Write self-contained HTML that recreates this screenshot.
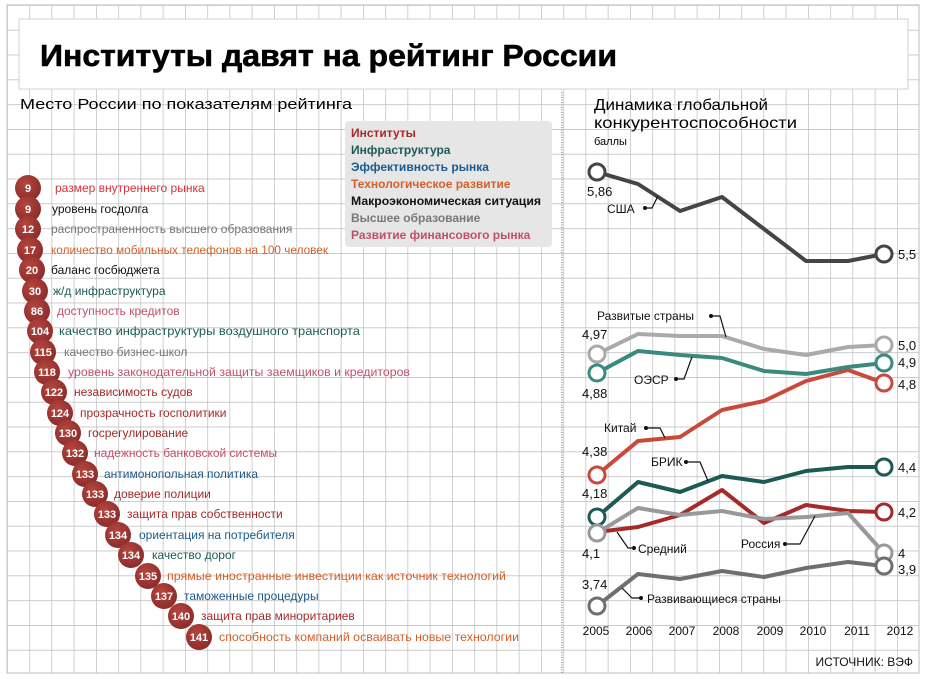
<!DOCTYPE html>
<html><head><meta charset="utf-8"><style>
html,body{margin:0;padding:0;background:#fff;}
svg{display:block;font-family:"Liberation Sans","Noto Sans CJK SC",sans-serif;}
</style></head><body>
<svg width="925" height="679" viewBox="0 0 925 679" xmlns="http://www.w3.org/2000/svg">
<defs>
<pattern id="g" x="7" y="5" width="22.25" height="24.8" patternUnits="userSpaceOnUse">
<path d="M0 0 V24.8 M0 0 H22.25" stroke="#bcbcbc" stroke-width="1.4" fill="none"/>
</pattern>
<radialGradient id="rc" cx="0.4" cy="0.35" r="0.7"><stop offset="0" stop-color="#b5463e"/><stop offset="1" stop-color="#8a2a2a"/></radialGradient>
</defs>
<rect x="7" y="5" width="912" height="668" fill="url(#g)" stroke="#bcbcbc"/>
<rect x="19" y="19" width="889" height="70" fill="#fff" stroke="#d0d0d0"/>
<text x="40" y="66" font-size="31" font-weight="900" stroke="#000" stroke-width="0.6" textLength="577" lengthAdjust="spacingAndGlyphs">Институты давят на рейтинг России</text>
<text x="20" y="109" font-size="15" textLength="332" lengthAdjust="spacingAndGlyphs">Место России по показателям рейтинга</text>
<line x1="562" y1="92" x2="562" y2="673" stroke="#999" stroke-width="1.5" stroke-dasharray="1,1.5"/>
<text x="594" y="110" font-size="16" textLength="174" lengthAdjust="spacingAndGlyphs">Динамика глобальной</text>
<text x="594" y="128" font-size="16" textLength="203" lengthAdjust="spacingAndGlyphs">конкурентоспособности</text>
<text x="594" y="145" font-size="11">баллы</text>

<rect x="345" y="121" width="207" height="126" rx="4" fill="#e6e6e6"/>
<g font-size="12" font-weight="bold">
<text x="351" y="137" fill="#a52a2a">Институты</text>
<text x="351" y="154" fill="#1e5a55">Инфраструктура</text>
<text x="351" y="171" fill="#1a5a8f">Эффективность рынка</text>
<text x="351" y="188" fill="#d2602a">Технологическое развитие</text>
<text x="351" y="205" fill="#111" textLength="190" lengthAdjust="spacingAndGlyphs">Макроэкономическая ситуация</text>
<text x="351" y="222" fill="#777">Высшее образование</text>
<text x="351" y="239" fill="#c0506a">Развитие финансового рынка</text>
</g>

<g font-size="12">
<g fill="url(#rc)">
<circle cx="28" cy="188" r="13"/><circle cx="28" cy="209" r="13"/><circle cx="28" cy="229" r="13"/><circle cx="30" cy="250" r="13"/><circle cx="32" cy="270" r="13"/><circle cx="35" cy="291" r="13"/><circle cx="37" cy="311" r="13"/><circle cx="40" cy="331" r="13"/><circle cx="43" cy="352" r="13"/><circle cx="47" cy="372" r="13"/><circle cx="54" cy="392" r="13"/><circle cx="60" cy="413" r="13"/><circle cx="68" cy="433" r="13"/><circle cx="75" cy="453" r="13"/><circle cx="85" cy="474" r="13"/><circle cx="95" cy="494" r="13"/><circle cx="107" cy="514" r="13"/><circle cx="118" cy="535" r="13"/><circle cx="131" cy="555" r="13"/><circle cx="148" cy="576" r="13"/><circle cx="164" cy="596" r="13"/><circle cx="181" cy="616" r="13"/><circle cx="199" cy="637" r="13"/>
</g>
<g fill="#fff" font-weight="bold" text-anchor="middle" font-size="11">
<text x="28" y="192">9</text><text x="28" y="213">9</text><text x="28" y="233">12</text><text x="30" y="254">17</text><text x="32" y="274">20</text><text x="35" y="295">30</text><text x="37" y="315">86</text><text x="40" y="335">104</text><text x="43" y="356">115</text><text x="47" y="376">118</text><text x="54" y="396">122</text><text x="60" y="417">124</text><text x="68" y="437">130</text><text x="75" y="457">132</text><text x="85" y="478">133</text><text x="95" y="498">133</text><text x="107" y="518">133</text><text x="118" y="539">134</text><text x="131" y="559">134</text><text x="148" y="580">135</text><text x="164" y="600">137</text><text x="181" y="620">140</text><text x="199" y="641">141</text>
</g>
<text x="55" y="192" fill="#d8323a">размер внутреннего рынка</text>
<text x="52" y="213" fill="#111">уровень госдолга</text>
<text x="51" y="233" fill="#777">распространенность высшего образования</text>
<text x="51" y="254" fill="#d2602a" textLength="277" lengthAdjust="spacingAndGlyphs">количество мобильных телефонов на 100 человек</text>
<text x="51" y="274" fill="#111">баланс госбюджета</text>
<text x="53" y="295" fill="#1e5a55">ж/д инфраструктура</text>
<text x="57" y="315" fill="#c0506a">доступность кредитов</text>
<text x="59" y="335" fill="#1e5a55" textLength="301" lengthAdjust="spacingAndGlyphs">качество инфраструктуры воздушного транспорта</text>
<text x="64" y="356" fill="#777">качество бизнес-школ</text>
<text x="68" y="376" fill="#c0506a" textLength="342" lengthAdjust="spacingAndGlyphs">уровень законодательной защиты заемщиков и кредиторов</text>
<text x="74" y="396" fill="#a52a2a">независимость судов</text>
<text x="80" y="417" fill="#a52a2a">прозрачность госполитики</text>
<text x="88" y="437" fill="#a52a2a">госрегулирование</text>
<text x="94" y="457" fill="#c0506a">надежность банковской системы</text>
<text x="104" y="478" fill="#1a5a8f">антимонопольная политика</text>
<text x="114" y="498" fill="#a52a2a">доверие полиции</text>
<text x="127" y="518" fill="#a52a2a">защита прав собственности</text>
<text x="139" y="539" fill="#1a5a8f">ориентация на потребителя</text>
<text x="152" y="559" fill="#1e5a55">качество дорог</text>
<text x="167" y="580" fill="#d2602a" textLength="339" lengthAdjust="spacingAndGlyphs">прямые иностранные инвестиции как источник технологий</text>
<text x="184" y="600" fill="#1a5a8f">таможенные процедуры</text>
<text x="201" y="620" fill="#a52a2a">защита прав миноритариев</text>
<text x="219" y="641" fill="#d2602a" textLength="300" lengthAdjust="spacingAndGlyphs">способность компаний осваивать новые технологии</text>
</g>

<g fill="none" stroke-width="4" stroke-linejoin="round">
<polyline stroke="#454545" points="597,172 638,184 680,211 722,197 764,229 806,261 848,261 884,254"/>
<polyline stroke="#aaaaaa" points="597,354 638,334 680,336 722,336 764,349 806,355 848,347 884,345"/>
<polyline stroke="#c94a3a" points="597,475 638,441 680,437 722,410 764,401 806,381 848,370 884,383"/>
<polyline stroke="#3a8a80" points="597,373 638,351 680,355 722,358 764,371 806,374 848,367 884,363"/>
<polyline stroke="#1e5a55" points="597,517 638,482 680,492 722,476 764,482 806,471 848,467 884,467"/>
<polyline stroke="#a52a2a" points="597,532 638,527 680,515 722,490 764,523 806,505 848,511 884,512"/>
<polyline stroke="#999999" points="597,533 638,508 680,515 722,511 764,519 806,517 848,513 884,553"/>
<polyline stroke="#6f6f6f" points="597,606 638,574 680,579 722,571 764,577 806,568 848,562 884,566"/>
</g>
<g fill="#fff" stroke-width="3">
<circle cx="597" cy="172" r="8" stroke="#454545"/><circle cx="884" cy="254" r="8" stroke="#454545"/>
<circle cx="597" cy="354" r="8" stroke="#aaa"/><circle cx="884" cy="345" r="8" stroke="#aaa"/>
<circle cx="597" cy="373" r="8" stroke="#3a8a80"/><circle cx="884" cy="363" r="8" stroke="#3a8a80"/>
<circle cx="597" cy="475" r="8" stroke="#c94a3a"/><circle cx="884" cy="383" r="8" stroke="#c94a3a"/>
<circle cx="597" cy="517" r="8" stroke="#1e5a55"/><circle cx="884" cy="467" r="8" stroke="#1e5a55"/>
<circle cx="884" cy="512" r="8" stroke="#a52a2a"/>
<circle cx="597" cy="533" r="8" stroke="#999"/><circle cx="884" cy="553" r="8" stroke="#999"/>
<circle cx="597" cy="606" r="8" stroke="#6f6f6f"/><circle cx="884" cy="566" r="8" stroke="#6f6f6f"/>
</g>
<g stroke="#111" stroke-width="1.2" fill="none">
<polyline points="645,208 652,208 658,196"/>
<polyline points="711,316 720,316 726,337"/>
<polyline points="676,379 684,379 692,357"/>
<polyline points="646,428 660,428 665,438"/>
<polyline points="686,462 700,462 708,481"/>
<polyline points="634,548 628,548 617,532"/>
<polyline points="785,544 800,544 815,516"/>
<polyline points="641,598 632,598 622,588"/>
</g>
<g fill="#111">
<circle cx="645" cy="208" r="2"/><circle cx="711" cy="316" r="2"/><circle cx="676" cy="379" r="2"/><circle cx="646" cy="428" r="2"/><circle cx="686" cy="462" r="2"/><circle cx="634" cy="548" r="2"/><circle cx="785" cy="544" r="2"/><circle cx="641" cy="598" r="2"/>
</g>
<g font-size="12" fill="#111">
<text x="607" y="213">США</text>
<text x="597" y="320">Развитые страны</text>
<text x="634" y="384">ОЭСР</text>
<text x="604" y="432">Китай</text>
<text x="651" y="466">БРИК</text>
<text x="638" y="553">Средний</text>
<text x="741" y="548">Россия</text>
<text x="647" y="603">Развивающиеся страны</text>
</g>
<g font-size="13" fill="#111">
<text x="587" y="196">5,86</text><text x="898" y="259">5,5</text>
<text x="582" y="339">4,97</text><text x="898" y="350">5,0</text><text x="898" y="367">4,9</text><text x="898" y="389">4,8</text>
<text x="582" y="398">4,88</text><text x="582" y="456">4,38</text><text x="898" y="472">4,4</text>
<text x="582" y="498">4,18</text><text x="898" y="517">4,2</text><text x="582" y="558">4,1</text>
<text x="898" y="558">4</text><text x="898" y="574">3,9</text><text x="582" y="589">3,74</text>
</g>
<g font-size="12" fill="#111" text-anchor="middle">
<text x="596" y="635">2005</text><text x="639" y="635">2006</text><text x="682" y="635">2007</text><text x="726" y="635">2008</text><text x="770" y="635">2009</text><text x="813" y="635">2010</text><text x="857" y="635">2011</text><text x="900" y="635">2012</text>
</g>
<text x="913" y="666" font-size="12" fill="#111" text-anchor="end">ИСТОЧНИК: ВЭФ</text>
</svg>
</body></html>
